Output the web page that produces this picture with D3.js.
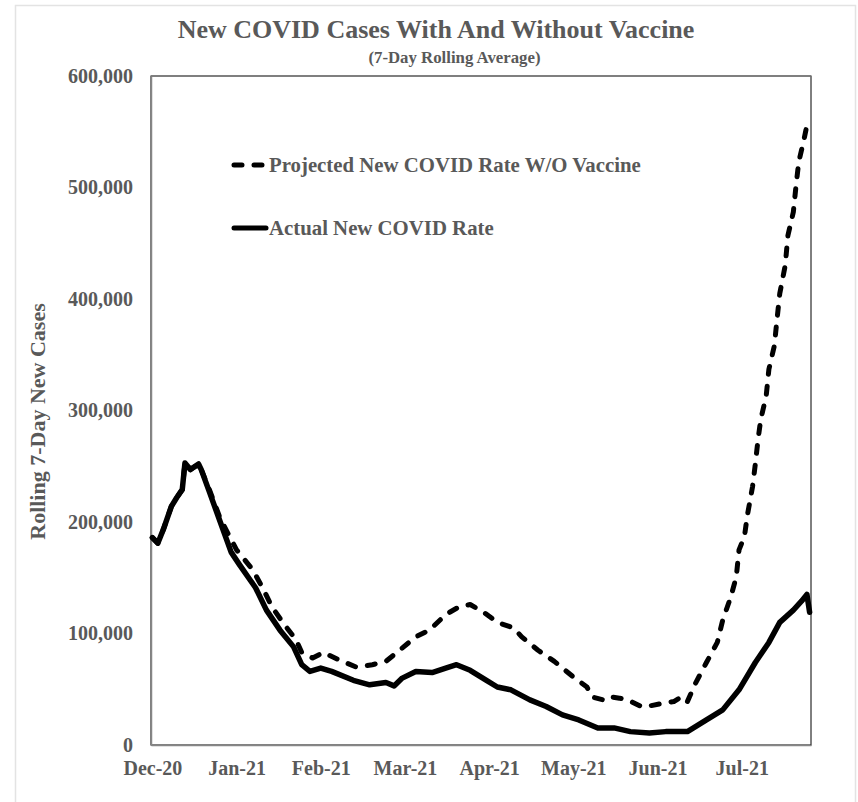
<!DOCTYPE html>
<html>
<head>
<meta charset="utf-8">
<script src="https://cdn.jsdelivr.net/npm/d3@7"></script>
<style>
  html, body { margin: 0; padding: 0; background: #fff; }
  svg { display: block; }
  text { font-family: "Liberation Serif", "Times New Roman", serif; font-weight: bold; fill: #595959; }
</style>
</head>
<body>
<svg id="chart" width="858" height="802"></svg>
<script>
// ---- Data (day index from Dec-20 start, 7-day rolling new cases) ----
const dayCount = 243;
const monthLabels = ["Dec-20", "Jan-21", "Feb-21", "Mar-21", "Apr-21", "May-21", "Jun-21", "Jul-21"];
const monthTickDays = [0, 31, 62, 93, 124, 155, 186, 217];
const yTicks = [0, 100000, 200000, 300000, 400000, 500000, 600000];

const actualDays = [0, 2, 4, 7, 9, 11, 12, 14, 17, 18, 21, 25, 29, 32, 36, 38, 42, 47, 52, 55, 58, 62, 66, 74, 80, 86, 89, 92, 97, 103, 108, 112, 117, 123, 127, 132, 139, 145, 151, 157, 164, 170, 176, 183, 189, 197, 204, 210, 216, 222, 227, 231, 236, 239, 241, 242];
const actualValues = [186000, 181000, 193000, 214000, 222000, 229000, 253000, 247000, 252000, 247000, 227000, 200000, 173000, 162000, 148000, 141000, 121000, 103000, 88000, 72000, 66000, 69000, 66000, 58000, 54000, 56000, 53000, 60000, 66000, 65000, 69000, 72000, 67000, 58000, 52000, 49500, 40500, 34500, 27000, 22500, 15300, 15300, 12000, 10800, 12000, 12000, 22500, 31500, 49500, 74000, 92000, 110000, 121000, 129000, 135000, 119000];

const projectedDays = [0, 2, 4, 7, 9, 11, 12, 14, 17, 18, 21, 25, 31, 37, 41, 44, 48, 53, 55, 59, 63, 69, 75, 81, 86, 91, 97, 102, 108, 113, 117, 122, 127, 133, 136, 142, 148, 155, 160, 162, 166, 168, 172, 175, 180, 182, 188, 192, 195, 197, 200, 204, 208, 210, 213, 215, 216, 218, 219, 221, 222, 223, 224, 226, 227, 229, 230, 231, 233, 234, 236, 237, 238, 240, 241, 242];
const projectedValues = [186000, 181000, 193000, 214000, 222000, 229000, 253000, 247000, 252000, 247000, 229000, 203000, 175000, 157000, 139000, 124000, 110000, 94000, 83000, 78000, 83000, 76000, 70000, 72000, 75000, 85000, 97000, 103000, 117000, 124000, 126000, 119000, 110000, 105000, 97000, 85000, 75000, 61000, 52000, 43000, 40500, 43500, 42000, 40500, 34500, 34500, 37500, 39000, 43500, 39000, 55500, 74000, 92000, 112000, 133000, 151000, 175000, 187000, 205000, 232000, 252000, 274000, 292000, 313000, 337000, 358000, 382000, 405000, 430000, 457000, 478000, 502000, 523000, 544000, 556000, 555000];

const seriesNames = ["Projected New COVID Rate W/O Vaccine", "Actual New COVID Rate"];

// ---- Layout ----
const svg = d3.select("#chart");
const plot = { left: 151, right: 811, top: 76, bottom: 745 };

const x = d3.scaleLinear().domain([-0.5, dayCount - 0.5]).range([plot.left, plot.right]);
const y = d3.scaleLinear().domain([0, 600000]).range([plot.bottom, plot.top]);

// outer chart border
svg.append("rect").attr("x", 15.5).attr("y", 5.5).attr("width", 840).attr("height", 820)
  .attr("fill", "none").attr("stroke", "#e3e3e3").attr("stroke-width", 1.5);

// title
svg.append("text").attr("x", 436).attr("y", 38).attr("text-anchor", "middle")
  .style("font-size", "26px").text("New COVID Cases With And Without Vaccine");
svg.append("text").attr("x", 454.5).attr("y", 63).attr("text-anchor", "middle")
  .style("font-size", "16.8px").text("(7-Day Rolling Average)");

// plot frame
svg.append("rect").attr("x", plot.left).attr("y", plot.top)
  .attr("width", plot.right - plot.left).attr("height", plot.bottom - plot.top)
  .attr("fill", "none").attr("stroke", "#000").attr("stroke-width", 1);
svg.append("line").attr("x1", plot.left).attr("x2", plot.right).attr("y1", plot.top).attr("y2", plot.top)
  .attr("stroke", "#7f7f7f").attr("stroke-width", 1.5);

// y axis
const yAxis = d3.axisLeft(y).tickValues(yTicks).tickSize(0).tickPadding(18)
  .tickFormat(d3.format(","));
const gy = svg.append("g").attr("transform", `translate(${plot.left},0)`).call(yAxis);
gy.select(".domain").attr("stroke", "#868686").attr("stroke-width", 1.5);
gy.selectAll("text").style("font-size", "20px").attr("fill", "#595959");

// x axis
const xAxis = d3.axisBottom(x).tickValues(monthTickDays).tickSize(0).tickPadding(16)
  .tickFormat((d, i) => monthLabels[i]);
const gx = svg.append("g").attr("transform", `translate(0,${plot.bottom})`).call(xAxis);
gx.select(".domain").attr("stroke", "#868686").attr("stroke-width", 1.5);
gx.selectAll("text").style("font-size", "20px").attr("fill", "#595959");

// y axis title
svg.append("text").attr("transform", `translate(45,${(plot.top + plot.bottom) / 2 + 11}) rotate(-90)`)
  .attr("text-anchor", "middle").style("font-size", "22px").text("Rolling 7-Day New Cases");

// lines
const line = d3.line().x(d => x(d[0])).y(d => y(d[1]));
const projected = projectedDays.map((d, i) => [d, projectedValues[i]]);
const actual = actualDays.map((d, i) => [d, actualValues[i]]);

svg.append("path").datum(projected).attr("d", line)
  .attr("fill", "none").attr("stroke", "#000").attr("stroke-width", 5)
  .attr("stroke-linecap", "round").attr("stroke-linejoin", "round")
  .attr("stroke-dasharray", "8,12");
svg.append("path").datum(actual).attr("d", line)
  .attr("fill", "none").attr("stroke", "#000").attr("stroke-width", 5.5)
  .attr("stroke-linecap", "round").attr("stroke-linejoin", "round");

// legend
const legend = [
  { name: seriesNames[0], y: 165, dash: "8,12" },
  { name: seriesNames[1], y: 228, dash: null }
];
legend.forEach(l => {
  svg.append("line").attr("x1", 234).attr("x2", 266).attr("y1", l.y).attr("y2", l.y)
    .attr("stroke", "#000").attr("stroke-width", 5).attr("stroke-linecap", "round")
    .attr("stroke-dasharray", l.dash);
  svg.append("text").attr("x", 269).attr("y", l.y + 7).style("font-size", "20.8px").text(l.name);
});
</script>
</body>
</html>
